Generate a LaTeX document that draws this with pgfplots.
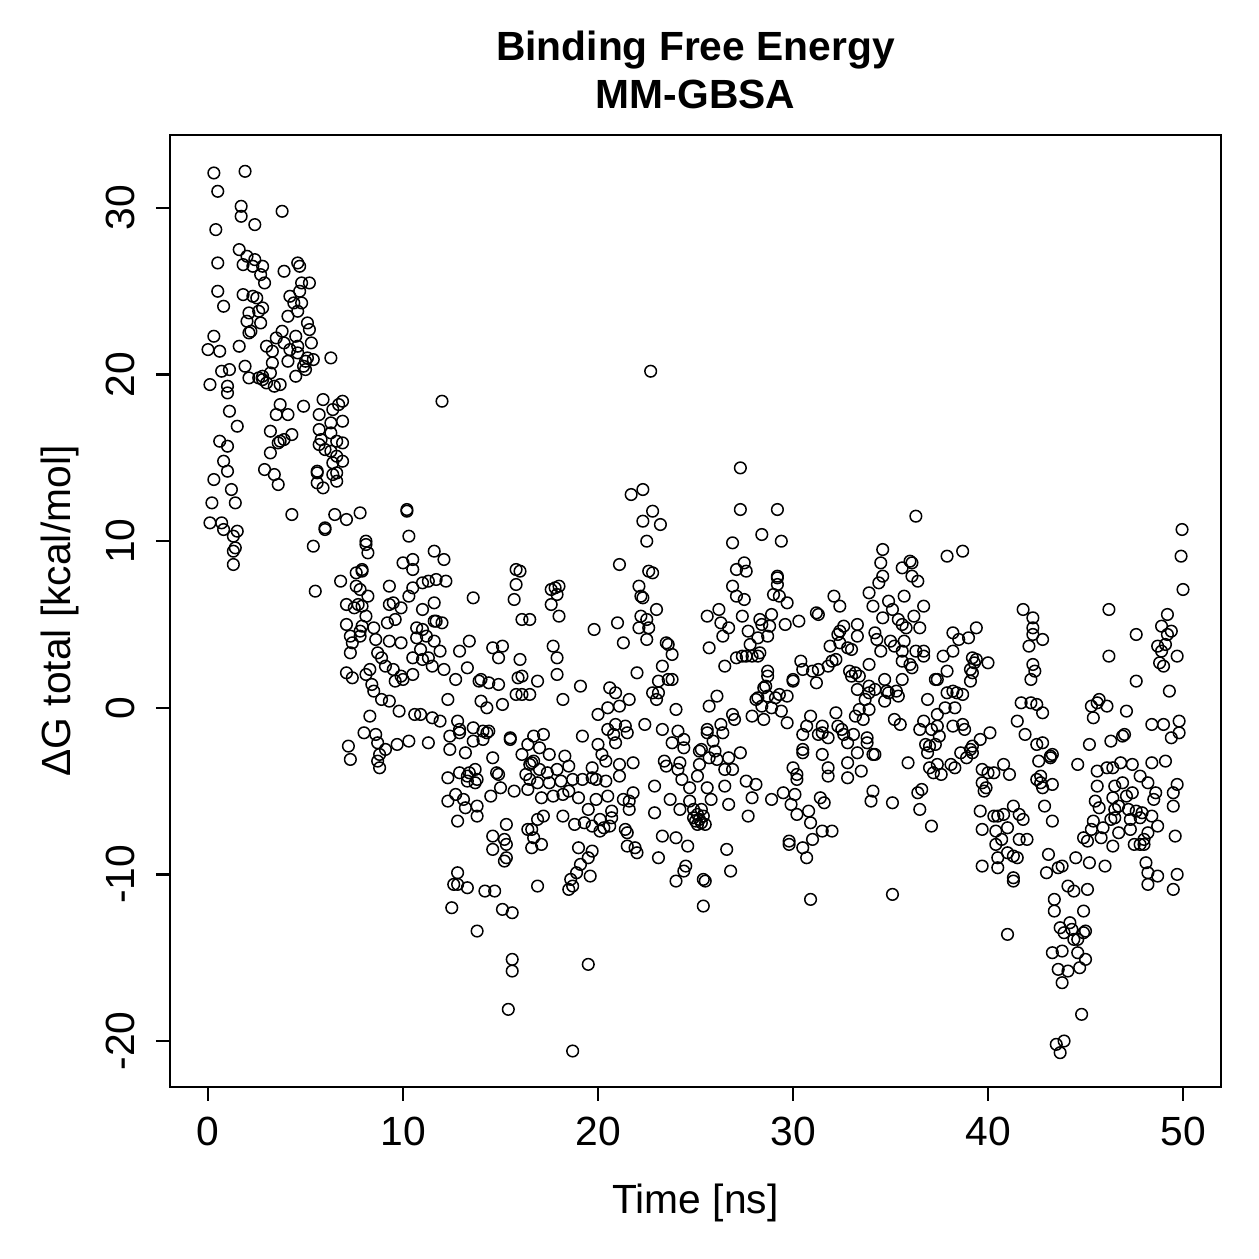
\documentclass[border=0pt]{standalone}
\usepackage{fontspec}
\setmainfont{Liberation Sans}
\usepackage{pgfplots}
\pgfplotsset{compat=1.18}
\usepackage{pgfplotstable}
\pgfplotstableread{
x y
0.3 32.1
1.9 32.2
0.5 31.0
1.7 30.1
1.7 29.5
2.4 29.0
3.8 29.8
0.4 28.7
1.6 27.5
2.0 27.1
1.8 26.6
2.4 26.9
2.3 26.5
2.8 26.5
2.7 26.0
2.9 25.5
3.9 26.2
4.6 26.7
4.7 26.5
0.5 26.7
0.5 25.0
0.8 24.1
1.8 24.8
2.3 24.7
2.5 24.6
2.8 24.0
2.1 23.7
2.6 23.8
2.0 23.2
2.7 23.1
2.2 22.6
2.1 22.5
4.8 25.5
5.2 25.5
4.2 24.7
4.7 25.0
4.4 24.3
4.8 24.3
4.6 23.8
4.1 23.5
5.1 23.1
5.2 22.7
3.8 22.6
4.5 22.3
5.3 21.9
3.5 22.2
3.0 21.7
3.3 21.4
3.9 21.9
4.2 21.5
4.6 21.7
4.6 21.3
0.3 22.3
0.0 21.5
0.6 21.4
1.6 21.7
5.0 20.8
5.1 21.0
5.4 20.9
6.3 21.0
4.9 20.5
5.0 20.3
4.5 19.9
4.1 20.8
3.3 20.7
3.2 20.1
1.9 20.5
2.1 19.8
2.6 19.8
2.8 19.9
3.0 19.5
3.4 19.3
3.7 19.4
2.8 19.7
1.1 20.3
0.7 20.2
0.1 19.4
1.0 19.3
1.0 18.9
1.1 17.8
1.5 16.9
3.7 18.2
3.5 17.6
4.1 17.6
4.9 18.1
5.9 18.5
6.9 18.4
6.7 18.2
6.4 17.9
5.7 17.6
6.3 17.1
6.9 17.2
3.2 16.6
3.7 16.0
4.3 16.4
3.9 16.1
3.6 15.9
3.2 15.3
5.7 16.7
6.3 16.5
5.7 15.8
5.8 16.1
6.0 15.5
6.3 15.4
6.6 16.0
6.9 15.9
6.6 15.1
6.9 14.8
6.4 14.7
6.4 14.0
5.6 14.2
5.6 14.1
5.6 13.5
5.9 13.2
6.6 14.1
6.6 13.6
2.9 14.3
3.4 14.0
3.6 13.4
0.6 16.0
1.0 15.7
0.8 14.8
1.0 14.2
0.3 13.7
1.2 13.1
1.4 12.3
0.2 12.3
0.1 11.1
0.7 11.1
0.8 10.7
1.3 10.3
1.5 10.6
4.3 11.6
6.5 11.6
7.1 11.3
6.0 10.8
6.0 10.7
1.4 9.6
5.4 9.7
1.3 9.4
1.3 8.6
5.5 7.0
6.8 7.6
7.6 8.1
7.9 8.2
7.6 7.3
7.1 6.2
7.5 6.0
7.7 6.2
7.1 5.0
7.3 4.3
7.4 3.9
7.3 3.3
7.1 2.1
7.4 1.8
7.2 -2.3
7.3 -3.1
12.0 18.4
10.2 11.9
10.2 11.8
7.8 11.7
10.3 10.3
8.1 10.0
8.1 9.8
8.2 9.3
10.0 8.7
10.5 8.9
10.5 8.3
11.6 9.4
12.1 8.9
7.9 8.3
7.8 7.1
8.2 6.7
7.9 6.1
8.1 5.5
8.5 4.8
7.8 4.6
9.3 7.3
10.5 7.2
11.0 7.5
11.3 7.6
11.7 7.7
12.2 7.6
10.3 6.7
9.3 6.2
9.5 6.3
9.9 6.0
11.0 5.9
11.6 6.3
11.6 5.2
11.7 5.2
12.0 5.1
9.2 5.1
9.6 5.3
13.6 6.6
10.7 4.8
11.0 4.7
10.7 4.2
11.2 4.3
11.6 4.0
11.9 3.4
10.5 3.0
11.0 2.9
11.3 3.0
11.5 2.5
10.9 3.5
8.7 3.3
8.9 3.0
9.1 2.5
9.5 2.3
9.9 1.9
9.6 1.6
10.0 1.7
10.5 2.0
8.3 2.3
8.1 2.0
8.4 1.4
8.5 1.0
8.9 0.5
9.3 0.4
9.8 -0.2
8.3 -0.5
7.9 4.9
7.8 4.3
8.6 4.1
9.3 4.0
9.9 3.9
10.6 -0.4
10.9 -0.4
11.5 -0.6
11.9 -0.8
12.3 0.5
12.7 1.7
12.1 2.3
12.9 3.4
13.4 4.0
13.3 2.4
14.6 3.6
15.1 3.7
14.9 3.0
13.9 1.6
14.0 1.7
14.4 1.5
14.9 1.4
14.3 0.0
15.1 0.2
14.0 0.4
15.8 0.8
16.1 0.8
15.9 1.8
16.1 1.9
16.0 2.9
16.1 5.3
12.8 -0.8
12.9 -1.3
13.6 -1.2
14.1 -1.4
14.4 -1.4
15.5 -1.8
15.8 8.3
16.0 8.2
15.8 7.4
15.7 6.5
8.0 -1.5
8.6 -1.6
8.7 -2.1
9.1 -2.5
8.8 -2.8
8.7 -3.2
8.8 -3.6
9.7 -2.2
10.3 -2.0
11.3 -2.1
12.4 -1.7
12.4 -2.5
12.9 -1.5
13.2 -2.7
13.6 -2.0
14.1 -1.9
14.3 -1.5
14.6 -3.0
15.5 -1.9
16.1 -2.8
16.4 -2.2
16.6 -3.3
17.0 -2.4
12.3 -4.2
12.9 -3.9
13.3 -4.1
13.4 -3.9
13.7 -3.7
13.8 -4.3
13.7 -4.5
13.3 -4.4
12.7 -5.2
12.3 -5.6
13.1 -5.5
13.2 -6.0
13.8 -5.9
13.8 -6.5
12.8 -6.8
14.5 -5.3
14.8 -3.9
15.0 -4.8
14.9 -4.0
15.7 -5.0
16.4 -4.9
16.3 -4.0
14.6 -7.7
15.2 -7.9
15.3 -8.2
14.6 -8.5
15.2 -9.2
15.3 -9.0
15.3 -7.0
16.4 -7.3
12.8 -9.9
12.6 -10.6
12.8 -10.6
13.3 -10.8
14.2 -11.0
14.7 -11.0
12.5 -12.0
15.1 -12.1
15.6 -12.3
13.8 -13.4
15.6 -15.1
15.6 -15.8
15.4 -18.1
22.7 20.2
21.7 12.8
22.3 13.1
22.8 11.8
22.3 11.2
23.2 11.0
22.5 10.0
21.1 8.6
22.6 8.2
22.8 8.1
22.1 7.3
22.2 6.7
22.3 6.6
23.0 5.9
22.2 5.5
22.5 5.3
22.1 4.8
22.6 4.8
22.5 4.1
21.0 5.1
21.3 3.9
19.8 4.7
23.5 3.9
23.6 3.8
23.8 3.2
23.3 2.5
22.0 2.1
23.1 1.6
23.6 1.7
23.8 1.7
22.8 0.9
23.1 0.9
23.0 0.5
24.0 -0.1
25.6 5.5
25.7 3.6
17.6 7.1
17.8 7.2
18.0 7.3
17.9 6.8
17.6 6.2
18.0 5.5
17.7 3.7
17.9 3.0
17.9 2.0
16.9 1.6
18.2 0.5
19.1 1.3
16.5 5.3
16.5 0.8
20.6 1.2
20.9 0.9
21.6 0.5
21.1 0.1
20.5 0.0
20.0 -0.4
20.5 -1.3
20.9 -1.0
21.4 -1.1
21.5 -1.5
22.4 -1.0
23.3 -1.3
24.1 -1.4
19.2 -1.7
17.2 -1.6
16.7 -1.7
20.0 -2.2
20.8 -1.6
20.9 -2.1
23.8 -2.1
24.4 -1.9
24.4 -2.4
25.2 -2.6
16.7 -3.2
16.5 -3.4
17.0 -3.7
17.5 -2.8
17.4 -3.9
17.9 -3.7
18.3 -2.9
18.5 -3.5
19.7 -3.6
20.2 -2.8
20.4 -3.2
21.1 -3.4
21.8 -3.3
23.4 -3.2
23.5 -3.5
24.2 -3.3
24.1 -3.7
25.7 -3.0
16.5 -4.3
16.9 -4.5
17.5 -4.5
18.1 -4.4
18.7 -4.3
19.2 -4.3
19.7 -4.2
19.9 -4.3
20.4 -4.4
21.1 -4.1
22.9 -4.7
23.7 -5.5
24.3 -4.3
24.7 -4.8
25.1 -4.1
17.1 -5.4
17.7 -5.3
18.2 -5.2
18.5 -5.0
19.0 -5.4
19.5 -6.1
19.9 -5.5
20.5 -5.3
20.7 -6.2
21.3 -5.5
21.6 -5.6
21.6 -6.1
21.8 -5.1
22.9 -6.3
24.2 -6.1
24.7 -5.6
24.9 -6.1
25.1 -6.4
25.2 -6.7
25.4 -6.5
25.0 -6.8
25.1 -7.0
24.9 -6.6
25.3 -6.9
16.9 -6.7
17.2 -6.5
18.2 -6.5
18.8 -7.0
19.3 -6.9
19.7 -7.1
20.1 -6.7
20.3 -7.2
20.1 -7.4
20.6 -7.1
20.7 -6.6
21.4 -7.3
21.5 -7.5
21.5 -8.3
21.9 -8.4
22.0 -8.7
16.6 -7.3
16.7 -7.8
16.6 -8.4
17.1 -8.2
23.3 -7.7
24.0 -7.8
24.6 -8.3
23.1 -9.0
24.5 -9.5
24.4 -9.8
24.0 -10.4
25.4 -10.3
16.9 -10.7
18.5 -10.9
18.7 -10.7
18.6 -10.3
18.9 -9.9
19.1 -9.4
19.0 -8.4
19.5 -9.0
19.6 -10.1
19.7 -8.6
19.5 -15.4
18.7 -20.6
27.3 14.4
27.3 11.9
29.2 11.9
28.4 10.4
26.9 9.9
29.4 10.0
27.5 8.7
27.1 8.3
27.6 8.2
29.2 7.9
29.2 7.8
29.2 7.4
29.0 6.8
29.3 6.7
29.7 6.3
26.9 7.3
27.1 6.7
27.5 6.5
26.2 5.9
26.3 5.1
26.7 4.8
26.4 4.3
27.4 5.5
27.7 4.6
28.2 4.2
27.8 3.8
28.3 5.3
28.4 5.0
28.9 5.6
28.8 4.9
28.7 4.3
29.6 5.0
30.3 5.2
31.2 5.7
31.3 5.6
32.1 6.7
32.4 6.1
27.1 3.0
27.4 3.1
27.6 3.1
27.9 3.1
28.2 3.1
28.3 3.3
26.5 2.5
28.7 2.2
28.7 1.9
28.6 1.3
30.0 1.6
30.0 1.7
30.4 2.8
30.5 2.3
31.0 2.2
31.3 2.3
31.2 1.5
31.8 2.5
32.0 2.8
32.2 2.9
31.9 3.7
32.4 4.6
32.6 4.9
32.3 4.4
32.4 3.9
32.8 3.6
33.0 3.5
33.3 5.0
33.3 4.3
32.9 2.2
33.0 1.9
33.2 2.1
33.4 1.9
26.1 0.7
25.7 0.1
26.9 -0.4
27.0 -0.7
26.3 -1.0
25.6 -1.3
27.9 -0.5
28.5 -0.7
28.2 0.6
28.5 1.2
28.7 0.7
28.1 0.5
28.4 0.1
28.9 0.0
29.1 0.6
29.4 -0.2
29.3 0.8
29.7 0.7
29.7 -0.9
30.9 -0.5
30.7 -1.1
31.5 -1.1
32.2 -0.3
32.3 -1.1
32.5 -1.3
33.2 -0.5
33.4 -0.1
33.6 -0.7
33.7 0.5
33.9 0.9
33.3 1.1
25.6 -1.5
26.4 -1.5
25.9 -2.0
25.3 -2.5
26.0 -2.6
26.1 -3.1
26.7 -3.0
27.3 -2.7
26.5 -3.7
26.9 -3.7
25.2 -3.4
27.6 -4.4
28.1 -4.6
27.9 -5.4
26.5 -4.7
26.7 -5.8
27.7 -6.5
25.6 -4.8
25.8 -5.5
25.3 -6.1
25.5 -7.0
26.6 -8.5
26.8 -9.8
25.5 -10.4
25.4 -11.9
28.9 -5.5
29.5 -5.1
30.1 -5.2
29.9 -5.8
30.2 -6.4
30.8 -6.2
30.9 -6.9
31.4 -5.4
31.6 -5.7
31.5 -7.4
32.0 -7.4
31.0 -7.9
30.5 -8.4
29.8 -8.2
29.8 -8.0
30.7 -9.0
30.9 -11.5
30.0 -3.6
30.2 -4.0
30.2 -4.3
30.5 -2.5
30.5 -2.7
31.5 -2.8
31.8 -3.6
31.8 -4.1
32.8 -3.3
32.8 -4.2
33.5 -3.8
34.1 -5.0
34.0 -5.6
33.3 -2.7
33.8 -2.1
34.1 -2.8
33.8 -1.8
30.5 -1.6
31.3 -1.6
31.5 -1.5
31.8 -1.8
32.6 -1.6
32.8 -2.1
33.1 -1.6
36.3 11.5
34.6 9.5
34.5 8.7
34.6 7.9
34.4 7.5
36.0 8.8
36.1 8.7
35.6 8.4
36.1 7.9
36.4 7.6
37.9 9.1
38.7 9.4
33.9 6.9
34.1 6.1
34.9 6.4
35.1 5.9
35.7 6.7
36.7 6.1
34.6 5.4
35.4 5.3
35.6 5.0
36.2 5.5
35.8 4.8
36.5 4.8
34.2 4.5
34.3 4.1
34.5 3.4
35.0 4.0
35.2 3.7
35.7 4.0
35.6 3.4
36.3 3.4
36.7 3.4
36.7 3.1
35.6 2.8
36.0 2.6
36.1 2.4
33.9 2.6
38.2 4.5
38.5 4.1
39.0 4.2
39.4 4.8
37.7 3.1
38.2 3.4
37.9 2.2
37.3 1.7
37.4 1.7
39.2 3.0
39.4 2.9
39.3 2.7
40.0 2.7
39.1 2.3
39.2 2.1
39.1 1.6
34.7 1.7
35.6 1.7
33.9 1.3
34.2 1.1
34.8 1.0
34.9 0.9
35.3 1.0
35.4 0.7
34.7 0.4
36.9 0.5
37.9 0.9
38.2 1.0
38.4 0.9
38.7 0.8
38.3 0.0
33.9 -0.1
35.2 -0.7
35.5 -1.0
36.7 -0.8
36.5 -1.3
37.1 -1.3
37.4 -1.1
37.5 -1.7
37.8 0.0
37.4 -0.4
38.2 -1.1
38.7 -1.0
38.8 -1.3
40.1 -1.5
39.6 -1.9
39.2 -2.3
41.8 5.9
42.3 5.4
42.3 4.8
42.3 4.4
42.8 4.1
42.1 3.7
42.3 2.6
42.4 2.2
42.2 1.7
41.7 0.3
42.2 0.3
42.5 0.2
42.8 -0.3
41.5 -0.8
41.9 -1.6
42.5 -2.2
42.8 -2.1
34.2 -2.8
35.9 -3.3
36.8 -2.2
37.0 -2.3
36.9 -2.7
37.3 -2.2
37.0 -3.6
37.4 -3.4
37.2 -3.9
37.6 -4.0
38.1 -3.4
38.3 -3.6
38.6 -2.7
38.9 -3.0
39.1 -2.5
39.2 -2.7
35.1 -5.7
36.4 -5.1
36.6 -4.9
36.5 -6.1
37.1 -7.1
35.1 -11.2
39.7 -3.7
40.0 -3.9
40.3 -3.9
39.7 -4.5
39.9 -4.8
39.8 -5.0
40.8 -3.4
41.1 -4.0
39.6 -6.2
40.3 -6.5
40.5 -6.5
40.8 -6.4
41.3 -5.9
41.6 -6.4
41.8 -6.7
41.0 -7.2
39.7 -7.3
40.4 -7.4
40.7 -7.9
40.4 -8.2
41.6 -7.9
42.0 -7.9
41.0 -8.7
41.3 -8.9
41.5 -9.0
40.5 -9.0
39.7 -9.5
40.5 -9.6
41.3 -10.2
41.3 -10.4
41.0 -13.6
49.95 10.7
49.9 9.1
50.0 7.1
46.2 5.9
49.2 5.6
48.9 4.9
49.4 4.6
49.2 4.4
47.6 4.4
48.7 3.7
49.1 3.8
48.9 3.4
49.7 3.1
46.2 3.1
48.8 2.7
49.0 2.5
47.6 1.6
49.3 1.0
45.3 0.1
45.7 0.5
45.6 0.3
46.1 0.1
45.4 -0.6
47.1 -0.2
48.4 -1.0
49.0 -1.0
49.8 -0.8
49.4 -1.8
49.8 -1.5
45.2 -2.2
46.3 -2.0
46.9 -1.7
47.0 -1.6
43.2 -2.9
42.6 -3.2
43.2 -3.0
43.3 -2.8
44.6 -3.4
42.5 -4.3
42.7 -4.5
42.8 -4.8
43.3 -4.6
42.7 -4.1
42.9 -5.9
43.3 -6.8
43.1 -8.8
43.0 -9.9
43.6 -9.6
43.8 -9.5
44.5 -9.0
45.2 -9.3
46.0 -9.5
44.1 -10.7
44.4 -11.0
45.1 -10.9
43.4 -11.5
43.4 -12.2
44.9 -12.2
43.7 -13.2
44.2 -12.9
43.9 -13.5
44.3 -13.3
45.0 -13.4
44.9 -13.5
44.4 -13.9
44.6 -13.9
43.3 -14.7
43.8 -14.6
44.6 -14.7
45.0 -15.1
43.6 -15.7
44.1 -15.8
44.7 -15.6
43.8 -16.5
44.8 -18.4
43.5 -20.2
43.9 -20.0
43.7 -20.7
45.6 -3.8
46.1 -3.6
46.4 -3.6
46.8 -3.3
47.4 -3.4
48.4 -3.3
49.1 -3.2
45.6 -4.7
46.5 -4.7
46.9 -4.5
47.8 -4.1
48.2 -4.5
49.7 -4.6
45.5 -5.6
46.4 -5.4
47.1 -5.3
47.4 -5.1
48.6 -5.1
48.5 -5.5
49.5 -5.1
49.5 -5.9
45.7 -6.0
46.5 -6.1
46.7 -5.9
47.2 -6.1
47.6 -6.2
47.9 -6.3
48.4 -6.5
46.5 -6.6
47.3 -6.7
47.8 -6.6
46.3 -6.7
45.4 -6.8
45.9 -7.2
45.3 -7.3
45.8 -7.8
46.7 -7.5
47.3 -7.3
48.7 -7.1
48.2 -7.5
48.0 -7.9
47.5 -8.2
47.8 -8.2
48.0 -8.2
46.4 -8.3
45.1 -8.0
44.9 -7.8
49.6 -7.7
48.1 -9.3
48.2 -9.9
48.7 -10.1
48.2 -10.6
49.7 -10.0
49.5 -10.9
}\dgdata

\begin{document}
\begin{tikzpicture}
\path[use as bounding box] (0,0) rectangle (12.59cm,12.59cm);
\begin{axis}[
  at={(1.70cm,1.72cm)}, anchor=south west,
  scale only axis, width=10.51cm, height=9.52cm,
  xmin=-1.949, xmax=51.949, ymin=-22.76, ymax=34.38,
  xtick={0,10,20,30,40,50}, ytick={-20,-10,0,10,20,30},
  tick align=outside, xtick pos=bottom, ytick pos=left,
  major tick length=1.4mm,
  axis line style={line width=0.25mm},
  every tick/.style={line width=0.25mm, black},
  /pgf/number format/assume math mode=true,
  ticklabel style={font=\fontsize{11.6}{14}\selectfont},
  xticklabel style={anchor=north, inner sep=0pt, yshift=-1.5mm},
  yticklabel style={anchor=south, rotate=90, inner sep=0pt, yshift=2.0mm},
  title={Binding Free Energy\\MM-GBSA},
  title style={at={(axis description cs:0.5,1.046)}, anchor=center, align=center, font=\bfseries\fontsize{11.6}{13.7}\selectfont},
  xlabel={Time [ns]},
  xlabel style={at={(axis description cs:0.5,-0.122)}, anchor=center, font=\fontsize{11.6}{14}\selectfont},
  ylabel={ΔG total [kcal/mol]},
  ylabel style={at={(axis description cs:-0.1047,0.5)}, anchor=center, font=\fontsize{11.6}{14}\selectfont},
]
\addplot[only marks, mark=o, mark size=0.58mm, mark options={line width=0.15mm, black}] table {\dgdata};
\end{axis}
\end{tikzpicture}
\end{document}
